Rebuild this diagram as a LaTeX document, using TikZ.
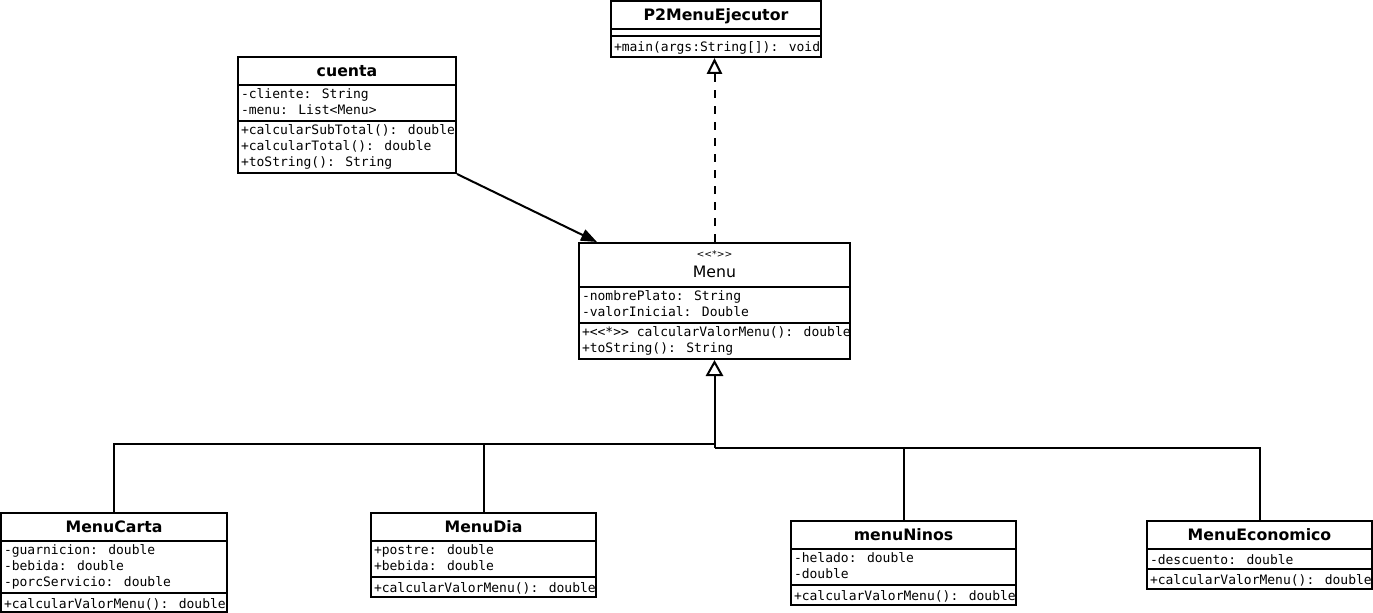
\documentclass[tikz,border=0pt]{standalone}
\usepackage{fontspec}
\newfontfamily\clsfont{DejaVu Sans}
\newfontfamily\membfont{DejaVu Sans Mono}
\usetikzlibrary{arrows.meta, fit}

\begin{document}
\begin{tikzpicture}[
        x=0.75pt, y=-0.75pt,
        line width=1.5pt,
        classbox/.style={draw=black, fill=white, line width=1.5pt, inner sep=0pt},
        classname/.style={font=\clsfont\bfseries\fontsize{11.8}{14}\selectfont, inner sep=0pt, anchor=base},
        members/.style={font=\membfont\fontsize{9.75}{12}\selectfont, align=left, inner sep=0pt,
            anchor=north west, execute at begin node=\strut},
        divider/.style={line width=1.5pt},
        assoc/.style={-{Triangle[length=12pt, width=9pt]}},
        generalize/.style={-{Triangle[open, length=12pt, width=13pt]}},
        realize/.style={dash pattern=on 6pt off 6pt, -{Triangle[open, length=12pt, width=11.5pt]}}
    ]
        \useasboundingbox (0,0) rectangle (1373,613);

        % Main class
        \node[classbox, fit={(611,1) (821,57)}] (ejec) {};
        \node[classname] (ejecname) at (716,20.5) {P2MenuEjecutor};
        \draw[divider] (611,29) -- (821,29);
        \draw[divider] (611,36) -- (821,36);
        \node[members] (ejecops) at (613,39) {+main(args:String[]): void};

        % cuenta
        \node[classbox, fit={(238,57) (456,173)}] (cuenta) {};
        \node[classname] (cuentaname) at (347,76.5) {cuenta};
        \draw[divider] (238,85) -- (456,85);
        \node[members] (cuentaattr) at (240,88) {-cliente: String\\-menu: List<Menu>};
        \draw[divider] (238,121) -- (456,121);
        \node[members] (cuentaops) at (240,124) {+calcularSubTotal(): double\\+calcularTotal(): double\\+toString(): String};

        % Menu (abstract)
        \node[classbox, fit={(579,243) (850,359)}] (menu) {};
        \node[font=\clsfont\fontsize{7}{8}\selectfont, inner sep=0pt, anchor=base] (menustereo) at (714.5,257) {<\kern0pt<*>\kern0pt>};
        \node[classname, font=\clsfont\fontsize{11.8}{14}\selectfont] (menuname) at (714.5,277.5) {Menu};
        \draw[divider] (579,287) -- (850,287);
        \node[members] (menuattr) at (581,290) {-nombrePlato: String\\-valorInicial: Double};
        \draw[divider] (579,323) -- (850,323);
        \node[members] (menuops) at (581,326) {+<\kern0pt<*>\kern0pt> calcularValorMenu(): double\\+toString(): String};

        % Subclasses
        \node[classbox, fit={(1,513) (227,612)}] (carta) {};
        \node[classname] (cartaname) at (114,532.5) {MenuCarta};
        \draw[divider] (1,541) -- (227,541);
        \node[members] (cartaattr) at (3,544) {-guarnicion: double\\-bebida: double\\-porcServicio: double};
        \draw[divider] (1,593) -- (227,593);
        \node[members] (cartaops) at (3,596) {+calcularValorMenu(): double};

        \node[classbox, fit={(371,513) (596,597)}] (dia) {};
        \node[classname] (dianame) at (483.5,532.5) {MenuDia};
        \draw[divider] (371,541) -- (596,541);
        \node[members] (diaattr) at (373,544) {+postre: double\\+bebida: double};
        \draw[divider] (371,577) -- (596,577);
        \node[members] (diaops) at (373,580) {+calcularValorMenu(): double};

        \node[classbox, fit={(791,521) (1016,605)}] (ninos) {};
        \node[classname] (ninosname) at (903.5,540.5) {menuNinos};
        \draw[divider] (791,549) -- (1016,549);
        \node[members] (ninosattr) at (793,552) {-helado: double\\-double};
        \draw[divider] (791,585) -- (1016,585);
        \node[members] (ninosops) at (793,588) {+calcularValorMenu(): double};

        \node[classbox, fit={(1147,521) (1372,589)}] (econ) {};
        \node[classname] (econname) at (1259.5,540.5) {MenuEconomico};
        \draw[divider] (1147,549) -- (1372,549);
        \node[members] (econattr) at (1149,552) {-descuento: double};
        \draw[divider] (1147,569) -- (1372,569);
        \node[members] (econops) at (1149,572) {+calcularValorMenu(): double};

        % Relations
        \draw[assoc] (cuenta.south east) -- ([xshift=14.25pt]menu.north west);
        \draw[realize] (menu.north) -- (menu.north |- ejec.south);

        \coordinate (joinL) at (714.5,444);
        \coordinate (joinR) at (714.5,448);
        \draw (carta.north) |- (joinL);
        \draw (dia.north) |- (joinL);
        \draw (ninos.north) |- (joinR);
        \draw (econ.north) |- (joinR);
        \draw[generalize] (joinR) -- (menu.south);
    \end{tikzpicture}
\end{document}
